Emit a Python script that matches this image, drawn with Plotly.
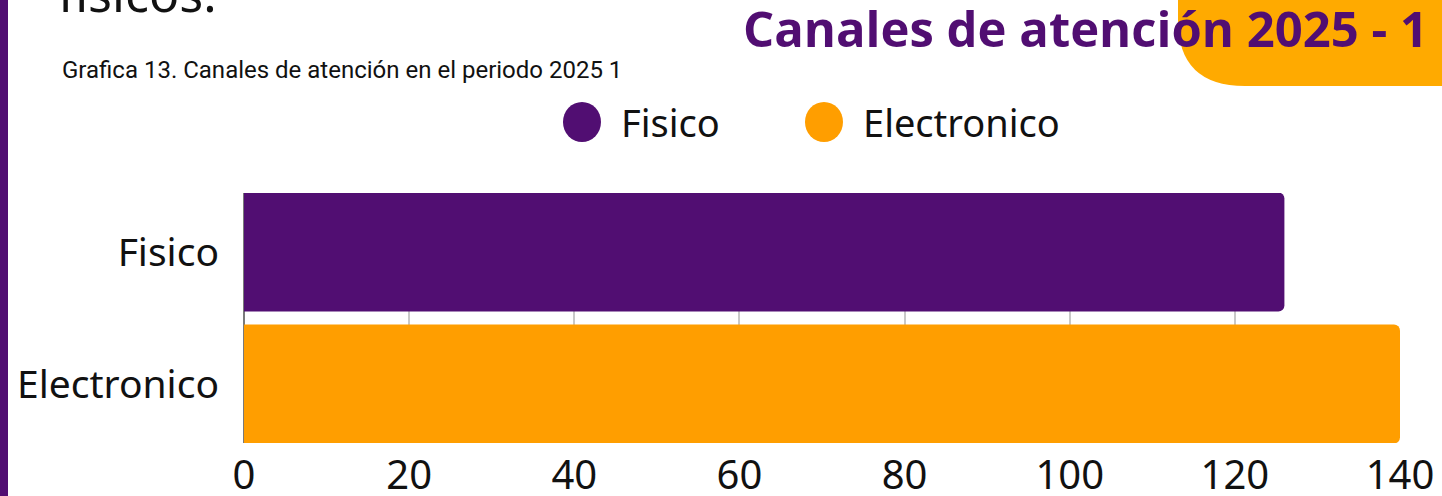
import plotly.graph_objects as go

categories = ["Fisico", "Electronico"]
values = [126, 140]
colors = ["#510E72", "#FF9E00"]
x_ticks = [0, 20, 40, 60, 80, 100, 120, 140]

W, H = 1442, 496
L, R, T, B = 244, 42, 193, 53
PW, PH = W - L - R, H - T - B

def px(x):
    return (x - L) / PW

def py(y):
    return (H - B - y) / PH

fig = go.Figure()
for cat, val, col in zip(categories, values, colors):
    fig.add_trace(go.Bar(
        y=[cat], x=[val], orientation="h", name=cat,
        marker=dict(color=col, line=dict(width=0)),
        showlegend=False, width=0.9,
    ))

shapes = [
    # left purple band
    dict(type="rect", xref="paper", yref="paper", x0=px(0), x1=px(8), y0=py(H + 5), y1=py(-5),
         fillcolor="#510E72", line=dict(width=0), layer="above"),
    # orange rounded tab behind title
    dict(type="path", xref="paper", yref="paper",
         path=(f"M {px(1178)},{py(-5)} L {px(1450)},{py(-5)} L {px(1450)},{py(86)} "
               f"L {px(1245)},{py(86)} Q {px(1178)},{py(86)} {px(1178)},{py(20)} Z"),
         fillcolor="#FFAA00", line=dict(width=0), layer="below"),
]
annotations = [
    dict(text="físicos.", xref="paper", yref="paper", x=px(56), y=py(29), xanchor="left", yanchor="bottom",
         showarrow=False, font=dict(family="Noto Sans", size=50, color="#111")),
    dict(text="Grafica 13. Canales de atención en el periodo 2025 1", xref="paper", yref="paper",
         x=px(60), y=py(70), xanchor="left", yanchor="middle", showarrow=False,
         font=dict(family="Roboto", size=24, color="#111")),
    dict(text="<b>Canales de atención 2025 - 1</b>", xref="paper", yref="paper",
         x=px(1430), y=py(28), xanchor="right", yanchor="middle", showarrow=False,
         font=dict(family="Open Sans", size=49, color="#510E72")),
]
# legend drawn as circles + labels
leg_cx = [582, 824]
for cat, col, cx in zip(categories, colors, leg_cx):
    shapes.append(dict(type="circle", xref="paper", yref="paper",
                       x0=px(cx - 19), x1=px(cx + 19), y0=py(142), y1=py(102),
                       fillcolor=col, line=dict(width=0)))
    annotations.append(dict(text=cat, xref="paper", yref="paper", x=px(cx + 37), y=py(122),
                            xanchor="left", yanchor="middle", showarrow=False,
                            font=dict(family="Noto Sans", size=38, color="#111")))

fig.update_layout(
    width=W, height=H, margin=dict(l=L, r=R, t=T, b=B, pad=0, autoexpand=False),
    paper_bgcolor="white", plot_bgcolor="white",
    barmode="overlay", barcornerradius=6,
    shapes=shapes, annotations=annotations, showlegend=False,
    xaxis=dict(range=[0, 140], tickvals=x_ticks, showgrid=True, gridcolor="#C8C8C8", gridwidth=1.5,
               zeroline=True, zerolinecolor="#7A7A7A", zerolinewidth=2, automargin=False,
               tickfont=dict(family="Noto Sans", size=40, color="#111"), ticks="", ticklabelstandoff=5),
    yaxis=dict(categoryorder="array", categoryarray=categories, range=[1.447, -0.447],
               showgrid=False, zeroline=False, ticks="", ticklabelstandoff=24, automargin=False,
               tickfont=dict(family="Noto Sans", size=39, color="#111")),
    font=dict(family="Noto Sans"),
)
fig.write_html("out.html", config={"displayModeBar": False},
               post_script="document.body.style.margin='0';document.body.style.overflow='hidden';")
